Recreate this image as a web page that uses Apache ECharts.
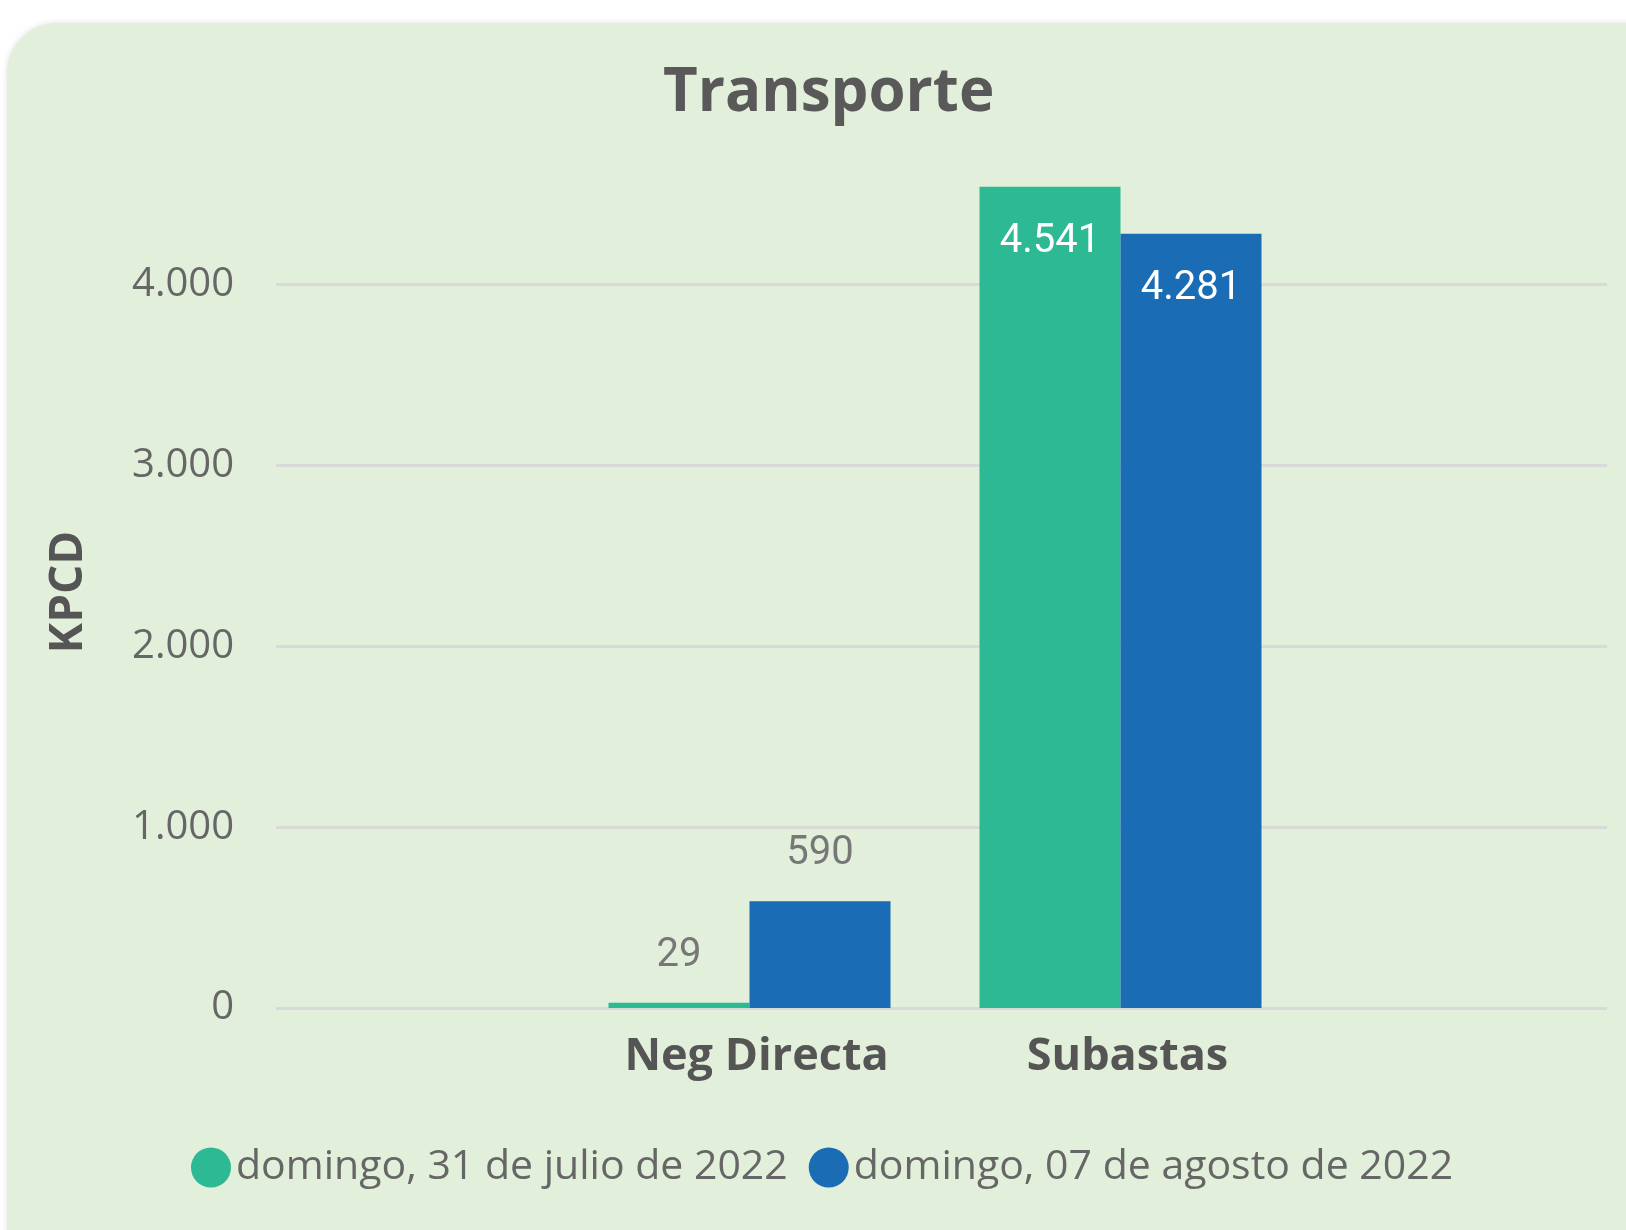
<!DOCTYPE html>
<html>
<head>
<meta charset="utf-8">
<script src="https://cdn.jsdelivr.net/npm/echarts@6/dist/echarts.min.js"></script>
<style>
  html, body { margin: 0; padding: 0; background: #ffffff; }
  #chart { width: 1626px; height: 1230px; }
</style>
</head>
<body>
<div id="chart"></div>
<script>
const categories = ['Neg Directa', 'Subastas'];
const seriesNames = ['domingo, 31 de julio de 2022', 'domingo, 07 de agosto de 2022'];
const julyValues = [29, 4541];
const augustValues = [590, 4281];
const yTicks = [0, 1000, 2000, 3000, 4000];

const colors = ['#2db993', '#1a6cb5'];

function fmt(v) {
  return String(v).replace(/\B(?=(\d{3})+(?!\d))/g, '.');
}

// big bars get the label inside, small ones above
function toData(vals) {
  return vals.map(v => v > 2000
    ? { value: v, label: { position: 'insideTop', distance: 35, color: '#ffffff' } }
    : v);
}

const chart = echarts.init(document.getElementById('chart'));

const yMax = 4600;
const gridTop = 176, gridBottom = 222;

chart.setOption({
  backgroundColor: '#ffffff',
  graphic: [{
    type: 'rect',
    z: -10,
    shape: { x: 7, y: 23, width: 1680, height: 1320, r: 50 },
    style: { fill: '#e2efda', shadowBlur: 6, shadowColor: 'rgba(0,0,0,0.12)' },
    silent: true
  }],
  title: {
    text: 'Transporte',
    left: 658,
    top: 59,
    textStyle: { fontFamily: 'Open Sans', fontWeight: 'bold', fontSize: 60, color: '#595959' }
  },
  legend: {
    data: seriesNames,
    left: 186,
    top: 1142,
    icon: 'circle',
    itemWidth: 40,
    itemHeight: 40,
    itemGap: 21,
    textStyle: { fontFamily: 'Open Sans', fontSize: 41, color: '#666666' }
  },
  grid: [
    { left: 276, right: 19, top: gridTop, bottom: gridBottom },
    { left: 564, right: 320, top: gridTop, bottom: gridBottom }
  ],
  xAxis: [
    { type: 'value', gridIndex: 0, show: false, min: 0, max: 1 },
    {
      type: 'category',
      gridIndex: 1,
      data: categories,
      axisLine: { show: false },
      axisTick: { show: false },
      axisLabel: {
        margin: 27,
        padding: [0, 0, 0, 14],
        fontFamily: 'Open Sans',
        fontWeight: 'bold',
        fontSize: 45,
        color: '#555555'
      }
    }
  ],
  yAxis: [
    {
      type: 'value',
      gridIndex: 0,
      min: 0,
      max: yMax,
      interval: yTicks[1] - yTicks[0],
      name: 'KPCD',
      nameLocation: 'middle',
      nameRotate: 90,
      nameGap: 184,
      nameTextStyle: { fontFamily: 'Open Sans', fontWeight: 'bold', fontSize: 46, color: '#555555' },
      axisLine: { show: false },
      axisTick: { show: false },
      axisLabel: {
        margin: 42,
        fontFamily: 'Open Sans',
        fontSize: 40,
        color: '#666666',
        showMaxLabel: false,
        formatter: v => yTicks.includes(v) ? fmt(v) : ''
      },
      splitLine: { show: true, showMaxLine: false, lineStyle: { color: '#d9d9d9', width: 3 } }
    },
    { type: 'value', gridIndex: 1, min: 0, max: yMax, show: false }
  ],
  series: [
    {
      name: seriesNames[0],
      type: 'bar',
      xAxisIndex: 1,
      yAxisIndex: 1,
      barWidth: 141,
      barGap: '0%',
      data: toData(julyValues),
      itemStyle: { color: colors[0] },
      label: {
        show: true,
        position: 'top',
        distance: 27,
        fontFamily: 'Roboto',
        fontSize: 40,
        color: '#777777',
        formatter: p => fmt(p.value)
      }
    },
    {
      name: seriesNames[1],
      type: 'bar',
      xAxisIndex: 1,
      yAxisIndex: 1,
      barWidth: 141,
      barGap: '0%',
      data: toData(augustValues),
      itemStyle: { color: colors[1] },
      label: {
        show: true,
        position: 'top',
        distance: 27,
        fontFamily: 'Roboto',
        fontSize: 40,
        color: '#777777',
        formatter: p => fmt(p.value)
      }
    }
  ]
});

window.addEventListener('resize', () => chart.resize());
</script>
</body>
</html>
